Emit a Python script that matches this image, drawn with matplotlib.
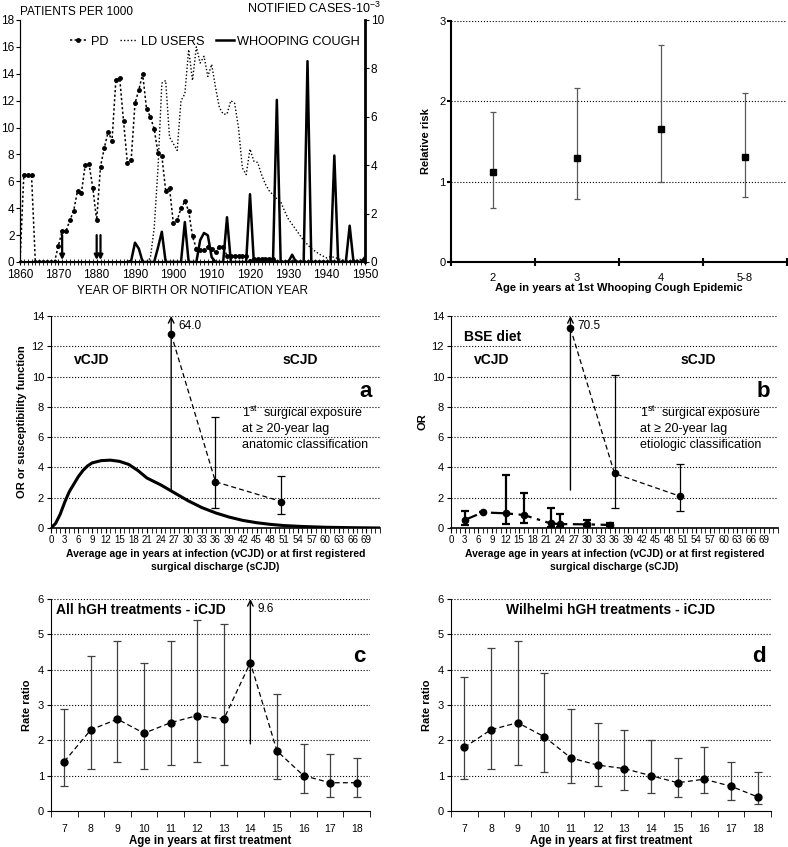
import numpy as np
import matplotlib.pyplot as plt
from matplotlib.ticker import MultipleLocator

plt.rcParams['font.family'] = ['Liberation Sans', 'DejaVu Sans']
plt.rcParams['mathtext.default'] = 'regular'

# ---- top left: PD patients, LD users, whooping cough notifications
pd_years = np.arange(1860, 1951)
pd_rate = [0, 6.5, 6.5, 6.5, 0, 0, 0, 0, 0, 0,
           1.2, 2.3, 2.3, 3.1, 3.8, 5.3, 5.1, 7.2, 7.3, 5.5,
           3.1, 7.1, 8.5, 9.7, 9.0, 13.5, 13.7, 10.5, 7.4, 7.6,
           11.8, 12.8, 14.0, 11.4, 10.8, 9.9, 8.1, 7.9, 5.3, 5.5,
           2.9, 3.1, 4.0, 4.5, 3.8, 1.9, 1.0, 0.9, 0.9, 1.15,
           1.0, 0.75, 1.15, 1.15, 0.45, 0.45, 0.45, 0.45, 0.45, 0.45,
           0.1, 0.25, 0.25, 0.25, 0.25, 0.25, 0.25, 0, 0, 0,
           0, 0, 0, 0, 0, 0, 0, 0, 0, 0,
           0, 0, 0, 0, 0, 0, 0, 0, 0, 0, 0]
ld_years = np.arange(1893, 1951)
ld_users = [0, 0.3, 2.5, 7.0, 13.3, 13.5, 9.3, 8.8, 8.3, 12.0,
            12.5, 15.8, 13.5, 16.0, 14.8, 15.3, 13.8, 14.7, 13.0, 11.5,
            11.0, 11.0, 12.0, 11.8, 10.0, 7.0, 6.5, 8.4, 7.5, 7.4,
            6.5, 5.8, 5.3, 5.0, 4.7, 4.5, 3.8, 3.2, 2.8, 2.4,
            2.0, 1.6, 1.3, 1.0, 0.8, 0.6, 0.45, 0.3, 0.4, 0.35,
            0.25, 0.15, 0.1, 0.1, 0.1, 0.15, 0.2, 0.2]
wc_years = np.arange(1888, 1951)
wc_cases = [0, 0.05, 0.8, 0.55, 0, 0, 0, 0, 0.6, 1.25,
            0, 0, 0, 0, 0, 1.65, 0, 0, 0, 0.9,
            1.2, 1.1, 0.2, 0, 0, 0, 1.85, 0, 0, 0,
            0, 0, 2.8, 0, 0, 0, 0, 0, 0, 6.7,
            0, 0, 0, 0.3, 0, 0, 0, 8.3, 0, 0,
            0, 0, 0, 0, 4.4, 0, 0, 0, 1.5, 0,
            0, 0, 0.2]
arrow_years = [1871, 1880, 1881]

# ---- top right: relative risk by age at first whooping cough epidemic
rr_cats = ['2', '3', '4', '5-8']
rr = [1.12, 1.30, 1.65, 1.31]
rr_lo = [0.67, 0.78, 1.00, 0.81]
rr_hi = [1.87, 2.17, 2.70, 2.10]

# ---- panels a / b
curve_age = [0, 1, 2, 3, 4, 5, 6, 7, 8, 9, 11, 13, 15, 17, 19, 21, 24, 26,
             30, 33, 36, 39, 42, 45, 48, 51, 55, 60, 66, 72]
curve_val = [0, 0.3, 0.9, 1.7, 2.4, 2.9, 3.4, 3.8, 4.1, 4.3, 4.45, 4.48, 4.4,
             4.2, 3.8, 3.3, 2.85, 2.5, 1.8, 1.35, 1.0, 0.72, 0.5, 0.35,
             0.24, 0.16, 0.1, 0.05, 0.02, 0]
scjd_age = [26.3, 36, 50.4]
or_a = [12.8, 3.05, 1.75]
lo_a = [2.5, 1.3, 0.9]
hi_a = [64.0, 7.35, 3.45]
or_b = [13.2, 3.6, 2.1]
lo_b = [2.5, 1.3, 1.1]
hi_b = [70.5, 10.1, 4.2]
vcjd_age = [3, 7, 12, 16, 22, 24, 30, 35]
or_v = [0.53, 1.03, 0.97, 0.86, 0.3, 0.26, 0.24, 0.2]
lo_v = [0.2, 1.03, 0.26, 0.35, 0.09, 0.05, 0.1, 0.1]
hi_v = [1.12, 1.03, 3.52, 2.33, 1.34, 0.95, 0.53, 0.35]

# ---- panels c / d
treat_age = [7, 8, 9, 10, 11, 12, 13, 14, 15, 16, 17, 18]
rr_c = [1.4, 2.3, 2.6, 2.2, 2.5, 2.7, 2.6, 4.2, 1.7, 1.0, 0.8, 0.8]
lo_c = [0.7, 1.2, 1.4, 1.2, 1.3, 1.4, 1.3, 1.9, 0.9, 0.5, 0.4, 0.4]
hi_c = [2.9, 4.4, 4.8, 4.2, 4.8, 5.4, 5.3, 9.6, 3.3, 1.9, 1.6, 1.5]
rr_d = [1.8, 2.3, 2.5, 2.1, 1.5, 1.3, 1.2, 1.0, 0.8, 0.9, 0.7, 0.4]
lo_d = [0.9, 1.2, 1.3, 1.1, 0.8, 0.7, 0.6, 0.5, 0.4, 0.5, 0.3, 0.2]
hi_d = [3.8, 4.6, 4.8, 3.9, 2.9, 2.5, 2.3, 2.0, 1.5, 1.8, 1.4, 1.1]

W, H = 788, 847
fig = plt.figure(figsize=(W / 100, H / 100), dpi=100)


def box(l, t, r, b):
    # pixel box -> figure fraction
    return [l / W, 1 - b / H, (r - l) / W, (b - t) / H]


def ci_plot(ax, x, y, lo, hi, top, **kw):
    # error bars, bars above the axis limit become arrows with the value
    for xi, yi, l, h in zip(x, y, lo, hi):
        if h > top:
            ax.annotate('', xy=(xi, top), xytext=(xi, l),
                        arrowprops=dict(arrowstyle='->', lw=1.0, color='k',
                                        shrinkA=0, shrinkB=0))
            ax.text(xi + kw.get('dx', 0.3), top * 0.955, f'{h:.1f}',
                    fontsize=8.5, va='center', ha='left')
        else:
            ax.errorbar([xi], [yi], yerr=[[yi - l], [h - yi]], fmt='none',
                        ecolor=kw.get('ecolor', 'k'), elinewidth=kw.get('elw', 1.0),
                        capsize=kw.get('cap', 3), capthick=kw.get('elw', 1.0))


# ================= top left
ax1 = fig.add_axes(box(20, 20, 365, 262))
ax1.plot(ld_years, ld_users, color='k', lw=1.0, ls=(0, (1, 1.5)))
ax1.plot(pd_years, pd_rate, color='k', lw=1.1, ls=(0, (1.5, 1.5)),
         marker='o', ms=2.5)
for yr in arrow_years:
    ax1.annotate('', xy=(yr, 0.15), xytext=(yr, 2.0),
                 arrowprops=dict(arrowstyle='-|>', lw=1.6, color='k',
                                 mutation_scale=7, shrinkA=0, shrinkB=0))
ax1.set_xlim(1860, 1950)
ax1.set_ylim(0, 18)
ax1.yaxis.set_major_locator(MultipleLocator(2))
ax1.xaxis.set_major_locator(MultipleLocator(10))
ax1.xaxis.set_minor_locator(MultipleLocator(1))
ax1.tick_params(axis='both', labelsize=8.5, length=3, pad=1)
ax1.tick_params(axis='x', which='both', direction='inout', length=4, pad=3)
ax1.spines['top'].set_visible(False)
ax1.spines['bottom'].set_linewidth(1.5)
ax1.set_xlabel('YEAR OF BIRTH OR NOTIFICATION YEAR', fontsize=8.5, labelpad=3)
ax1.text(0.0, 1.02, 'PATIENTS PER 1000', transform=ax1.transAxes,
         fontsize=8.5, ha='left', va='baseline')
ax1.text(1.045, 1.03, 'NOTIFIED CASES-10$^{-3}$', transform=ax1.transAxes,
         fontsize=9, ha='right', va='baseline')

ax1r = ax1.twinx()
ax1r.plot(wc_years, wc_cases, color='k', lw=1.8)
ax1r.set_ylim(0, 10)
ax1r.yaxis.set_major_locator(MultipleLocator(2))
ax1r.tick_params(labelsize=8.5, length=3, pad=1)
ax1r.spines['top'].set_visible(False)
ax1r.spines['right'].set_linewidth(2)
handles = [plt.Line2D([], [], color='k', lw=1.1, ls=(0, (1.5, 1.5)), marker='o', ms=2.5),
           plt.Line2D([], [], color='k', lw=1.0, ls=(0, (1, 1.5))),
           plt.Line2D([], [], color='k', lw=1.8)]
ax1r.legend(handles, ['PD', 'LD USERS', 'WHOOPING COUGH'], ncol=3, frameon=False,
            fontsize=9.2, loc='center left', bbox_to_anchor=(0.125, 0.91),
            handlelength=1.4, handletextpad=0.25, columnspacing=0.9, borderpad=0)

# ================= top right
ax2 = fig.add_axes(box(451, 21, 787, 262))
xr = np.arange(len(rr_cats))
ax2.errorbar(xr, rr, yerr=[np.subtract(rr, rr_lo), np.subtract(rr_hi, rr)],
             fmt='s', color='k', ms=4.5, ecolor='0.35', elinewidth=0.9,
             capsize=2.5, capthick=0.9)
ax2.set_xlim(-0.5, len(rr_cats) - 0.5)
ax2.set_ylim(0, 3)
ax2.set_yticks([0, 1, 2, 3])
ax2.set_xticks(xr, rr_cats)
ax2.set_xticks(np.arange(len(rr_cats) + 1) - 0.5, minor=True)
ax2.tick_params(axis='x', which='major', length=0, labelsize=8, pad=8)
ax2.tick_params(axis='x', which='minor', direction='inout', length=6, width=1.5)
ax2.tick_params(axis='y', labelsize=8, length=3, width=1.5, pad=1)
for y in [1, 2, 3]:
    ax2.axhline(y, color='k', ls=':', lw=0.8, zorder=0)
for s in ['top', 'right']:
    ax2.spines[s].set_visible(False)
for s in ['left', 'bottom']:
    ax2.spines[s].set_linewidth(1.5)
ax2.set_ylabel('Relative risk', fontsize=8, fontweight='bold', labelpad=6)
ax2.set_xlabel('Age in years at 1st Whooping Cough Epidemic', fontsize=8,
               fontweight='bold', labelpad=0)


def cjd_axes(ax, ylabel, letter, note):
    ax.set_xlim(0, 72)
    ax.set_ylim(0, 14)
    ax.set_xticks(np.arange(0, 70, 3))
    ax.xaxis.set_minor_locator(MultipleLocator(1))
    ax.set_yticks(np.arange(0, 15, 2))
    for y in np.arange(2, 15, 2):
        ax.axhline(y, color='k', ls=':', lw=0.8, zorder=0)
    ax.tick_params(axis='x', which='both', length=3.5, labelsize=7, pad=1.5)
    ax.tick_params(axis='y', labelsize=8, length=3, pad=2)
    for s in ['top', 'right']:
        ax.spines[s].set_visible(False)
    ax.spines['bottom'].set_linewidth(1.2)
    ax.set_ylabel(ylabel, fontsize=8, fontweight='bold', labelpad=3)
    ax.set_xlabel('Average age in years at infection (vCJD) or at first registered\n'
                  'surgical discharge (sCJD)', fontsize=7.5, fontweight='bold',
                  labelpad=3, linespacing=1.3)
    ax.text(9, 11.1, 'vCJD', fontsize=10, fontweight='bold', ha='center', va='center')
    ax.text(54.5, 11.1, 'sCJD', fontsize=10, fontweight='bold', ha='center', va='center')
    ax.text(0.975, 8.65, letter, transform=ax.get_yaxis_transform(), fontsize=16,
            fontweight='bold', ha='right', va='baseline')
    for line, yb in zip(['1$^{st}$  surgical exposure', 'at \u2265 20-year lag', note],
                        [7.3, 6.35, 5.3]):
        ax.text(41.7, yb, line, fontsize=9, ha='left', va='baseline')


# ================= panel a
axa = fig.add_axes(box(51, 316, 380, 528))
cjd_axes(axa, 'OR or susceptibility function', 'a', 'anatomic classification')
axa.plot(curve_age, curve_val, color='k', lw=2.2, zorder=2)
ci_plot(axa, scjd_age, or_a, lo_a, hi_a, 14, cap=3, elw=0.9, dx=1.5)
axa.plot(scjd_age, or_a, color='k', lw=0.9, ls=(0, (4, 2.5)), marker='o', ms=4.5, zorder=3)

# ================= panel b
axb = fig.add_axes(box(451, 316, 778, 528))
cjd_axes(axb, 'OR', 'b', 'etiologic classification')
ci_plot(axb, vcjd_age, or_v, lo_v, hi_v, 14, cap=3, elw=1.6)
axb.plot(vcjd_age, or_v, color='k', lw=1.6, ls=(0, (6, 2.5, 1.5, 2.5)), marker='o',
         ms=4.5, zorder=3)
ci_plot(axb, scjd_age, or_b, lo_b, hi_b, 14, cap=3, elw=0.9, dx=1.5)
axb.plot(scjd_age, or_b, color='k', lw=0.9, ls=(0, (4, 2.5)), marker='o', ms=4.5, zorder=3)
axb.text(2.8, 12.6, 'BSE diet', fontsize=10, fontweight='bold', ha='left', va='center')


def rate_axes(ax, x, y, lo, hi, title, tx, tha, letter):
    ci_plot(ax, x, y, lo, hi, 6, cap=3, elw=0.9, ecolor='0.25', dx=0.25)
    ax.plot(x, y, color='k', lw=0.9, ls=(0, (4, 2.5)), marker='o', ms=5, zorder=3)
    ax.set_xlim(x[0] - 0.5, x[-1] + 0.5)
    ax.set_ylim(0, 6)
    ax.set_xticks(x, [str(v) for v in x])
    ax.set_xticks(np.arange(x[0] - 0.5, x[-1] + 1), minor=True)
    ax.tick_params(axis='x', which='major', length=0, labelsize=7.5, pad=9)
    ax.tick_params(axis='x', which='minor', length=4)
    ax.tick_params(axis='y', labelsize=8, length=3, pad=2)
    for yv in range(1, 7):
        ax.axhline(yv, color='k', ls=':', lw=0.8, zorder=0)
    for s in ['top', 'right']:
        ax.spines[s].set_visible(False)
    ax.set_ylabel('Rate ratio', fontsize=8, fontweight='bold', labelpad=4)
    ax.set_xlabel('Age in years at first treatment', fontsize=8.3, fontweight='bold',
                  labelpad=1)
    ax.text(tx, 5.69, title, fontsize=10, fontweight='bold', ha=tha, va='center',
            transform=ax.get_yaxis_transform() if tha == 'center' else ax.transData)
    ax.text(0.985, 0.727, letter, transform=ax.transAxes, fontsize=16,
            fontweight='bold', ha='right', va='center')


# ================= panel c
axc = fig.add_axes(box(51, 599, 370, 811))
rate_axes(axc, treat_age, rr_c, lo_c, hi_c, 'All hGH treatments - iCJD', 6.7, 'left', 'c')

# ================= panel d
axd = fig.add_axes(box(451, 599, 771, 811))
rate_axes(axd, treat_age, rr_d, lo_d, hi_d, 'Wilhelmi hGH treatments - iCJD', 0.5, 'center', 'd')

fig.savefig('out.png', dpi=100)
